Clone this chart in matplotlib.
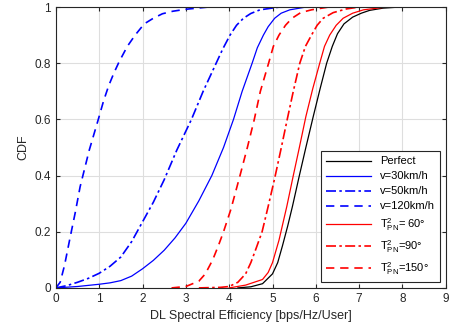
import matplotlib.pyplot as plt

plt.rcParams['font.family'] = ['Liberation Sans', 'DejaVu Sans']
plt.rcParams['mathtext.fontset'] = 'custom'
plt.rcParams['mathtext.rm'] = 'Liberation Sans'
plt.rcParams['mathtext.it'] = 'Liberation Sans'

# CDF curves (x = spectral efficiency, y = CDF)
perfect_x = [4.2, 4.5, 4.77, 5.0, 5.12, 5.23, 5.35, 5.46, 5.62, 5.77, 5.94, 6.1, 6.25, 6.38, 6.5,
             6.65, 6.85, 7.05, 7.24, 7.55, 7.95]
perfect_y = [0, 0.004, 0.015, 0.05, 0.09, 0.15, 0.22, 0.29, 0.4, 0.5, 0.61, 0.71, 0.8, 0.86, 0.905,
             0.94, 0.964, 0.978, 0.988, 0.996, 1.0]

v30_x = [0, 0.5, 1.0, 1.25, 1.5, 1.75, 2.0, 2.25, 2.5, 2.75, 3.0, 3.3, 3.6, 3.87, 4.1, 4.3, 4.53,
         4.65, 4.79, 4.9, 5.05, 5.2, 5.4, 5.78]
v30_y = [0, 0.005, 0.013, 0.018, 0.026, 0.042, 0.068, 0.098, 0.134, 0.178, 0.23, 0.31, 0.4, 0.5,
         0.6, 0.7, 0.8, 0.855, 0.9, 0.93, 0.96, 0.978, 0.99, 1.0]

v50_x = [0, 0.25, 0.5, 0.75, 1.0, 1.25, 1.5, 1.75, 2.0, 2.25, 2.5, 2.79, 3.13, 3.4, 3.7, 3.85,
         4.02, 4.17, 4.33, 4.5, 4.71, 5.17]
v50_y = [0, 0.008, 0.02, 0.034, 0.052, 0.077, 0.11, 0.165, 0.235, 0.305, 0.385, 0.49, 0.6, 0.7, 0.8,
         0.85, 0.9, 0.935, 0.96, 0.977, 0.99, 1.0]

v120_x = [0, 0.1, 0.2, 0.33, 0.45, 0.56, 0.77, 0.98, 1.1, 1.22, 1.34, 1.46, 1.65, 1.83, 2.04,
          2.25, 2.46, 2.7, 3.0, 3.53]
v120_y = [0, 0.02, 0.08, 0.18, 0.27, 0.36, 0.49, 0.6, 0.665, 0.72, 0.765, 0.805, 0.86, 0.9, 0.94,
          0.96, 0.976, 0.985, 0.992, 1.0]

pn60_x = [4.0, 4.38, 4.77, 4.9, 5.0, 5.15, 5.33, 5.48, 5.62, 5.77, 5.93, 6.09, 6.2, 6.32, 6.47,
          6.63, 6.85, 7.1, 7.63]
pn60_y = [0, 0.01, 0.03, 0.055, 0.09, 0.17, 0.29, 0.4, 0.5, 0.61, 0.71, 0.8, 0.86, 0.9, 0.935,
          0.96, 0.978, 0.99, 1.0]

pn90_x = [3.3, 3.8, 4.0, 4.2, 4.38, 4.5, 4.62, 4.76, 4.9, 5.05, 5.19, 5.34, 5.48, 5.63, 5.76,
          5.9, 6.03, 6.17, 6.4, 6.7, 7.0]
pn90_y = [0, 0.002, 0.005, 0.02, 0.05, 0.09, 0.14, 0.2, 0.29, 0.39, 0.49, 0.6, 0.7, 0.8, 0.86,
          0.9, 0.935, 0.96, 0.98, 0.993, 1.0]

pn150_x = [2.67, 3.0, 3.3, 3.45, 3.62, 3.75, 3.87, 4.04, 4.25, 4.42, 4.58, 4.72, 4.91, 5.02, 5.15,
           5.3, 5.45, 5.65, 5.9, 6.3]
pn150_y = [0, 0.005, 0.024, 0.05, 0.1, 0.15, 0.2, 0.28, 0.4, 0.5, 0.6, 0.7, 0.8, 0.86, 0.9,
           0.935, 0.96, 0.98, 0.99, 1.0]

fig = plt.figure(figsize=(4.54, 3.34), dpi=100)
ax = fig.add_axes([0.123, 0.138, 0.859, 0.841])

lw = 0.9
dashdot = (0, (6, 2, 1.5, 2))
dashed = (0, (5, 3.5))
ax.plot(perfect_x, perfect_y, color='black', lw=lw, label='Perfect')
ax.plot(v30_x, v30_y, color='blue', lw=lw, label='v=30km/h')
ax.plot(v50_x, v50_y, color='blue', lw=1.2, linestyle=dashdot, label='v=50km/h')
ax.plot(v120_x, v120_y, color='blue', lw=1.2, linestyle=dashed, label='v=120km/h')
ax.plot(pn60_x, pn60_y, color='red', lw=lw, label=r'T$^2_{\rm PN}$= 60°')
ax.plot(pn90_x, pn90_y, color='red', lw=1.2, linestyle=dashdot, label=r'T$^2_{\rm PN}$=90°')
ax.plot(pn150_x, pn150_y, color='red', lw=1.2, linestyle=dashed, label=r'T$^2_{\rm PN}$=150°')

ax.set_xlim(0, 9)
ax.set_ylim(0, 1)
ax.set_xticks(range(0, 10))
ax.set_yticks([0, 0.2, 0.4, 0.6, 0.8, 1])
ax.set_yticklabels(['0', '0.2', '0.4', '0.6', '0.8', '1'])
ax.grid(True, color='#dedede', lw=0.8)
ax.set_axisbelow(True)
ax.tick_params(direction='in', top=True, right=True, labelsize=8.5, length=3, colors='#262626')
for s in ax.spines.values():
    s.set_color('#262626')
    s.set_linewidth(0.8)
ax.set_xlabel('DL Spectral Efficiency [bps/Hz/User]', fontsize=9, color='#262626')
ax.set_ylabel('CDF', fontsize=9, color='#262626')

leg = ax.legend(loc='lower right', fontsize=8, fancybox=False, edgecolor='#262626',
                framealpha=1, handlelength=4, labelspacing=0.45, borderpad=0.5)
leg.get_frame().set_linewidth(0.8)

fig.savefig('out.png', dpi=100)
